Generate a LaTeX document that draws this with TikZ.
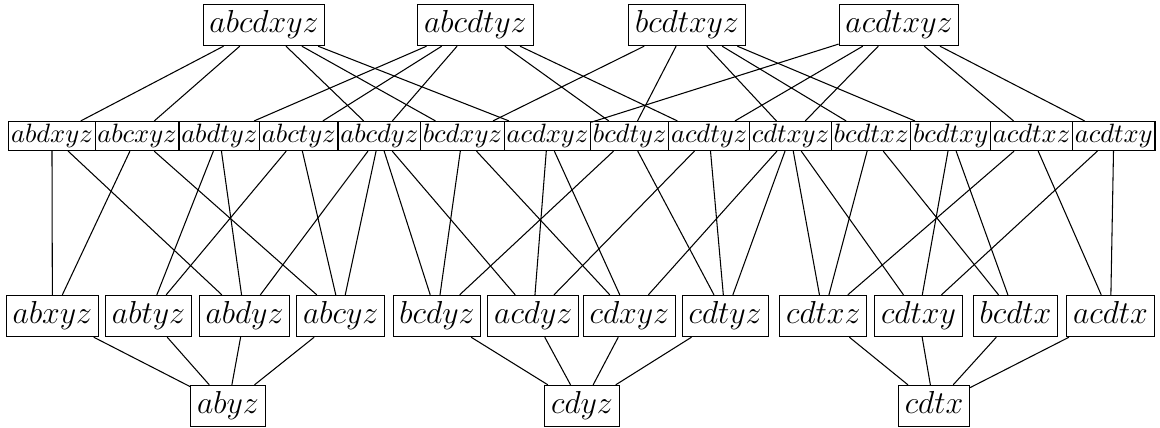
\documentclass[tikz,border=0pt]{standalone}
\usepackage{amsmath}
\usepackage{tikz}
\usetikzlibrary{positioning}

\begin{document}
\begin{tikzpicture}[x=0.3774pt,y=-0.3774pt]
\tikzstyle{bigset}=[draw,font=\large,inner sep=2.4pt,text height=8.4pt,text depth=2.4pt]
\tikzstyle{midset}=[draw,inner xsep=0.85pt,inner ysep=1pt,text height=7pt,text depth=2pt]
\useasboundingbox (0,0) rectangle (1160,427);
% top row
\node [bigset] (abcdxyz) at (264,25) {$abcdxyz$};
\node [bigset] (abcdtyz) at (475.4,25) {$abcdtyz$};
\node [bigset] (bcdtxyz) at (687,25) {$bcdtxyz$};
\node [bigset] (acdtxyz) at (899,25) {$acdtxyz$};
% second row
\node [midset,anchor=west] (abdxyz) at (8.3,136) {$abdxyz$};
\node [midset,right=-0.4pt of abdxyz] (abcxyz) {$abcxyz$};
\node [midset,right=-0.4pt of abcxyz] (abdtyz) {$abdtyz$};
\node [midset,right=-0.4pt of abdtyz] (abctyz) {$abctyz$};
\node [midset,right=-0.4pt of abctyz] (abcdyz) {$abcdyz$};
\node [midset,right=-0.4pt of abcdyz] (bcdxyz) {$bcdxyz$};
\node [midset,right=-0.4pt of bcdxyz] (acdxyz) {$acdxyz$};
\node [midset,right=-0.4pt of acdxyz] (bcdtyz) {$bcdtyz$};
\node [midset,right=-0.4pt of bcdtyz] (acdtyz) {$acdtyz$};
\node [midset,right=-0.4pt of acdtyz] (cdtxyz) {$cdtxyz$};
\node [midset,right=-0.4pt of cdtxyz] (bcdtxz) {$bcdtxz$};
\node [midset,right=-0.4pt of bcdtxz] (bcdtxy) {$bcdtxy$};
\node [midset,right=-0.4pt of bcdtxy] (acdtxz) {$acdtxz$};
\node [midset,right=-0.4pt of acdtxz] (acdtxy) {$acdtxy$};
% third row
\node [bigset] (abxyz) at (52.4,316) {$abxyz$};
\node [bigset] (abtyz) at (148.5,316) {$abtyz$};
\node [bigset] (abdyz) at (244.5,316) {$abdyz$};
\node [bigset] (abcyz) at (340.7,316) {$abcyz$};
\node [bigset] (bcdyz) at (437,316) {$bcdyz$};
\node [bigset] (acdyz) at (533.3,316) {$acdyz$};
\node [bigset] (cdxyz) at (629.4,316) {$cdxyz$};
\node [bigset] (cdtyz) at (725.2,316) {$cdtyz$};
\node [bigset] (cdtxz) at (823.3,316) {$cdtxz$};
\node [bigset] (cdtxy) at (918.5,316) {$cdtxy$};
\node [bigset] (bcdtx) at (1015.5,316) {$bcdtx$};
\node [bigset] (acdtx) at (1110.5,316) {$acdtx$};
% bottom row
\node [bigset] (abyz) at (228,406) {$abyz$};
\node [bigset] (cdyz) at (582,406) {$cdyz$};
\node [bigset] (cdtx) at (934,406) {$cdtx$};

\draw (abcdxyz) edge (abdxyz) edge (abcxyz) edge (abcdyz) edge (bcdxyz) edge (acdxyz);
\draw (abcdtyz) edge (abdtyz) edge (abctyz) edge (abcdyz) edge (bcdtyz) edge (acdtyz);
\draw (bcdtxyz) edge (bcdxyz) edge (bcdtyz) edge (cdtxyz) edge (bcdtxz) edge (bcdtxy);
\draw (acdtxyz) edge (acdxyz) edge (acdtyz) edge (cdtxyz) edge (acdtxz) edge (acdtxy);

\draw (abdxyz) edge (abxyz) edge (abdyz);
\draw (abcxyz) edge (abxyz) edge (abcyz);
\draw (abdtyz) edge (abtyz) edge (abdyz);
\draw (abctyz) edge (abtyz) edge (abcyz);
\draw (abcdyz) edge (abdyz) edge (abcyz) edge (bcdyz) edge (acdyz);
\draw (bcdxyz) edge (bcdyz) edge (cdxyz);
\draw (acdxyz) edge (acdyz) edge (cdxyz);
\draw (bcdtyz) edge (bcdyz) edge (cdtyz);
\draw (acdtyz) edge (acdyz) edge (cdtyz);
\draw (cdtxyz) edge (cdxyz) edge (cdtyz) edge (cdtxz) edge (cdtxy);
\draw (bcdtxz) edge (cdtxz) edge (bcdtx);
\draw (bcdtxy) edge (cdtxy) edge (bcdtx);
\draw (acdtxz) edge (cdtxz) edge (acdtx);
\draw (acdtxy) edge (cdtxy) edge (acdtx);

\draw (abyz) edge (abxyz) edge (abtyz) edge (abdyz) edge (abcyz);
\draw (cdyz) edge (bcdyz) edge (acdyz) edge (cdxyz) edge (cdtyz);
\draw (cdtx) edge (cdtxz) edge (cdtxy) edge (bcdtx) edge (acdtx);
\end{tikzpicture}
\end{document}
